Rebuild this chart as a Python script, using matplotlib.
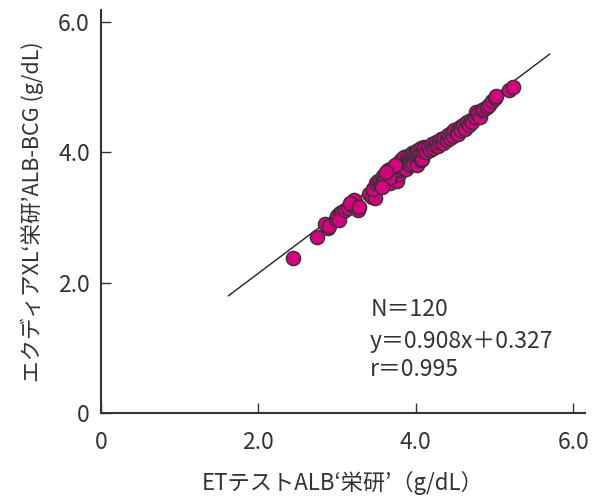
import numpy as np
import matplotlib.pyplot as plt

plt.rcParams['font.family'] = ['Noto Sans CJK JP', 'DejaVu Sans']

# ETテストALB values (x) and エクディアXL values (y), g/dL
x_low = [2.44, 2.74, 2.88, 2.84, 2.90, 2.98, 3.00, 3.04, 3.06, 3.02, 3.10, 3.14, 3.19, 3.23, 3.26, 3.22, 3.17, 3.28]
y_low = [2.38, 2.70, 2.84, 2.90, 2.86, 2.98, 3.02, 3.06, 3.08, 2.96, 3.12, 3.14, 3.19, 3.23, 3.11, 3.26, 3.22, 3.16]

x_mid = [3.40, 3.44, 3.48, 3.46, 3.50, 3.52, 3.54, 3.56, 3.58, 3.61, 3.60, 3.63, 3.65, 3.67, 3.68,
         3.70, 3.71, 3.72, 3.74, 3.75, 3.76, 3.77, 3.78, 3.79, 3.80, 3.80, 3.82, 3.83, 3.84, 3.85,
         3.86, 3.87, 3.88, 3.89, 3.90, 3.91, 3.92, 3.93, 3.94, 3.95, 3.96, 3.97, 3.98, 3.99, 4.00,
         4.01, 4.01, 4.02, 4.03, 4.04, 4.05, 4.06, 4.07, 4.08, 4.09, 4.10, 3.73, 3.66, 3.57, 3.62]
y_mid = [3.36, 3.31, 3.30, 3.44, 3.52, 3.56, 3.54, 3.50, 3.64, 3.62, 3.54, 3.68, 3.72, 3.52, 3.64,
         3.76, 3.72, 3.62, 3.70, 3.80, 3.56, 3.69, 3.84, 3.66, 3.72, 3.86, 3.76, 3.90, 3.78, 3.92,
         3.82, 3.74, 3.86, 3.83, 3.94, 3.88, 3.80, 3.92, 3.86, 3.98, 3.90, 3.82, 3.96, 4.00, 3.90,
         3.80, 4.02, 3.96, 4.04, 3.92, 3.98, 4.06, 3.88, 3.90, 4.02, 4.08, 3.80, 3.60, 3.46, 3.70]

x_high = [4.11, 4.13, 4.15, 4.18, 4.20, 4.22, 4.24, 4.26, 4.28, 4.30, 4.32, 4.34, 4.36, 4.39,
          4.41, 4.43, 4.45, 4.47, 4.49, 4.52, 4.54, 4.56, 4.58, 4.60, 4.62, 4.65, 4.67, 4.70,
          4.72, 4.75, 4.77, 4.79, 4.81, 4.84, 4.87, 4.90, 4.93, 4.97, 5.00, 5.02, 5.18, 5.23]
y_high = [4.06, 4.00, 4.08, 4.04, 4.12, 4.06, 4.11, 4.16, 4.10, 4.15, 4.20, 4.14, 4.22, 4.18,
          4.26, 4.22, 4.30, 4.24, 4.34, 4.31, 4.28, 4.38, 4.34, 4.42, 4.36, 4.46, 4.42, 4.50,
          4.46, 4.54, 4.61, 4.58, 4.54, 4.64, 4.66, 4.69, 4.72, 4.78, 4.83, 4.86, 4.95, 5.00]

x = x_low + x_mid + x_high
y = y_low + y_mid + y_high

slope = 0.908
intercept = 0.327
line_x = [1.62, 5.70]

fig = plt.figure(figsize=(6.07, 4.98), dpi=100)
ax = fig.add_axes([0.1664, 0.1707, 0.7974, 0.8093])

lx = np.array(line_x)
ax.plot(lx, slope * lx + intercept, color="#222222", lw=1.0, zorder=1)
ax.scatter(x, y, s=105, c="#d6007e", edgecolors="#333333", linewidths=1.0, zorder=2)

ax.set_xlim(0, 6.15)
ax.set_ylim(0, 6.18)
ax.set_xticks([0, 2, 4, 6])
ax.set_xticklabels(["0", "2.0", "4.0", "6.0"])
ax.set_yticks([0, 2, 4, 6])
ax.set_yticklabels(["0", "2.0", "4.0", "6.0"])
for s in ["top", "right"]:
    ax.spines[s].set_visible(False)
for s in ["left", "bottom"]:
    ax.spines[s].set_linewidth(1.5)
    ax.spines[s].set_color("#333333")
ax.tick_params(axis="both", direction="in", length=7, width=1.0, color="#333333",
               labelsize=16.5, labelcolor="#333333")
ax.tick_params(axis="x", pad=13)
ax.tick_params(axis="y", pad=8)

ax.set_xlabel("ETテストALB‘栄研’（g/dL）", fontsize=16, color="#333333", labelpad=12)
ax.set_ylabel("エクディアXL‘栄研’ALB-BCG (g/dL)", fontsize=15.5, color="#333333", labelpad=10)

ax.text(3.42, 1.58, "N＝120", fontsize=16.5, color="#333333", va="center")
ax.text(3.42, 1.09, "y＝0.908x＋0.327", fontsize=16.5, color="#333333", va="center")
ax.text(3.42, 0.66, "r＝0.995", fontsize=16.5, color="#333333", va="center")

fig.savefig("out.png", dpi=100)
